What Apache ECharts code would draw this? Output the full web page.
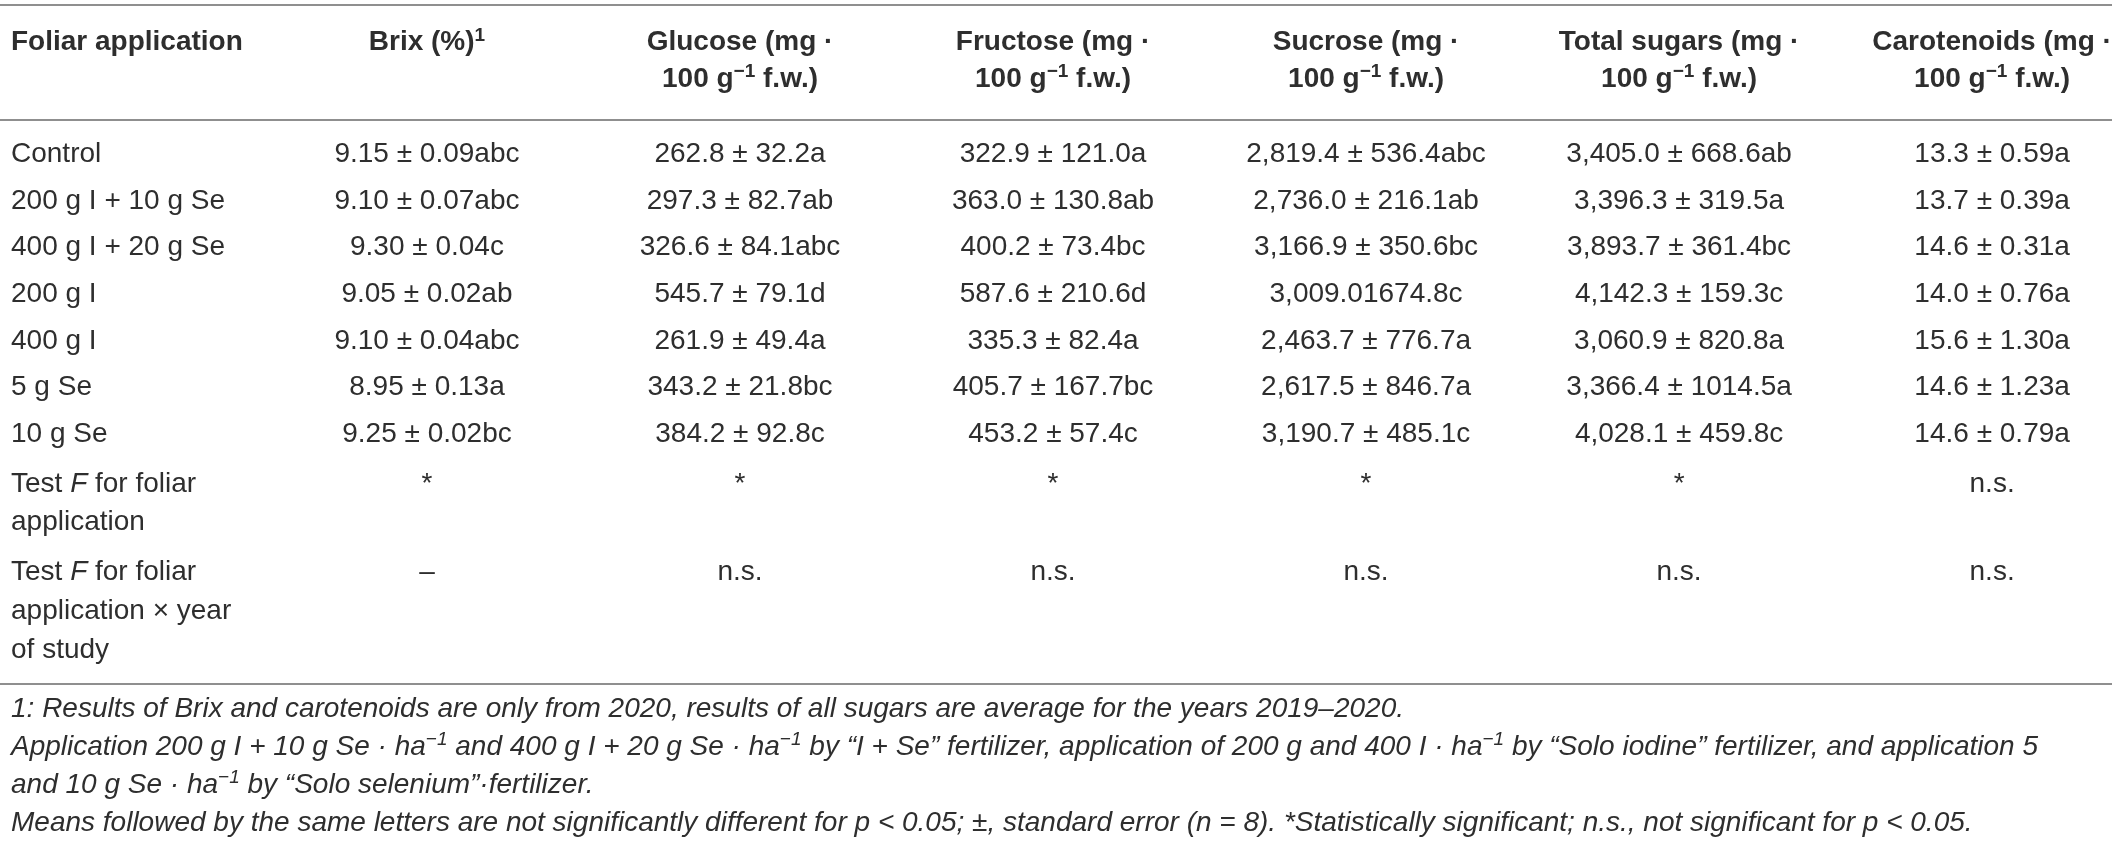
<!DOCTYPE html>
<html>
<head>
<meta charset="utf-8">
<title>Foliar application table</title>
<script src="https://cdn.jsdelivr.net/npm/echarts@6/dist/echarts.min.js"></script>
<style>
  html, body { margin: 0; padding: 0; background: #fff; }
  #main { width: 2120px; height: 845px; }
</style>
</head>
<body>
<div id="main"></div>
<script>
// column headers, one entry per printed line ({sb|..} = superscript)
var colHeaders = [
  ['Foliar application'],
  ['Brix (%){sb|1}'],
  ['Glucose (mg ·', '100 g{sb|−1} f.w.)'],
  ['Fructose (mg ·', '100 g{sb|−1} f.w.)'],
  ['Sucrose (mg ·', '100 g{sb|−1} f.w.)'],
  ['Total sugars (mg ·', '100 g{sb|−1} f.w.)'],
  ['Carotenoids (mg ·', '100 g{sb|−1} f.w.)']
];

var treatments = ['Control', '200 g I + 10 g Se', '400 g I + 20 g Se', '200 g I', '400 g I', '5 g Se', '10 g Se'];
var brix = ['9.15 ± 0.09abc', '9.10 ± 0.07abc', '9.30 ± 0.04c', '9.05 ± 0.02ab', '9.10 ± 0.04abc', '8.95 ± 0.13a', '9.25 ± 0.02bc'];
var glucose = ['262.8 ± 32.2a', '297.3 ± 82.7ab', '326.6 ± 84.1abc', '545.7 ± 79.1d', '261.9 ± 49.4a', '343.2 ± 21.8bc', '384.2 ± 92.8c'];
var fructose = ['322.9 ± 121.0a', '363.0 ± 130.8ab', '400.2 ± 73.4bc', '587.6 ± 210.6d', '335.3 ± 82.4a', '405.7 ± 167.7bc', '453.2 ± 57.4c'];
var sucrose = ['2,819.4 ± 536.4abc', '2,736.0 ± 216.1ab', '3,166.9 ± 350.6bc', '3,009.01674.8c', '2,463.7 ± 776.7a', '2,617.5 ± 846.7a', '3,190.7 ± 485.1c'];
var totalSugars = ['3,405.0 ± 668.6ab', '3,396.3 ± 319.5a', '3,893.7 ± 361.4bc', '4,142.3 ± 159.3c', '3,060.9 ± 820.8a', '3,366.4 ± 1014.5a', '4,028.1 ± 459.8c'];
var carotenoids = ['13.3 ± 0.59a', '13.7 ± 0.39a', '14.6 ± 0.31a', '14.0 ± 0.76a', '15.6 ± 1.30a', '14.6 ± 1.23a', '14.6 ± 0.79a'];

var testFLabel = ['Test {i|F} for foliar', 'application'];
var testF = ['*', '*', '*', '*', '*', 'n.s.'];
var testFYearLabel = ['Test {i|F} for foliar', 'application × year', 'of study'];
var testFYear = ['–', 'n.s.', 'n.s.', 'n.s.', 'n.s.', 'n.s.'];

var footnotes = [
  '1: Results of Brix and carotenoids are only from 2020, results of all sugars are average for the years 2019–2020.',
  'Application 200 g I + 10 g Se · ha{si|−1} and 400 g I + 20 g Se · ha{si|−1} by “I + Se” fertilizer, application of 200 g and 400 I · ha{si|−1} by “Solo iodine” fertilizer, and application 5',
  'and 10 g Se · ha{si|−1} by “Solo selenium”·fertilizer.',
  'Means followed by the same letters are not significantly different for p < 0.05; ±, standard error (n = 8). *Statistically significant; n.s., not significant for p < 0.05.'
];

var FONT = "'Liberation Sans', Arial, Helvetica, sans-serif";
var INK = '#2e2e2e';

// build rows
var valueCols = [brix, glucose, fructose, sucrose, totalSugars, carotenoids];
var rows = [];
for (var i = 0; i < treatments.length; i++) {
  var v = [];
  for (var c = 0; c < valueCols.length; c++) v.push(valueCols[c][i]);
  rows.push({ label: [treatments[i]], values: v });
}
rows.push({ label: testFLabel, values: testF });
rows.push({ label: testFYearLabel, values: testFYear });

// y axis is in "row" units, cells are laid out from their line counts
var headStart = 0.8, headStep = 0.79, bodyStart = 3.2, lineStep = 0.835;
var cells = [];
for (var c = 0; c < colHeaders.length; c++) {
  for (var k = 0; k < colHeaders[c].length; k++) {
    cells.push({ col: c, y: headStart + k * headStep, text: colHeaders[c][k], kind: 'head' });
  }
}
var y = bodyStart, lastLine = y;
for (var r = 0; r < rows.length; r++) {
  var n = rows[r].label.length;
  if (n > 1) y += 0.06;
  for (var k = 0; k < n; k++) {
    cells.push({ col: 0, y: y + k * lineStep, text: rows[r].label[k], kind: 'body' });
    lastLine = y + k * lineStep;
  }
  for (var c = 0; c < rows[r].values.length; c++) {
    cells.push({ col: c + 1, y: y, text: rows[r].values[c], kind: 'body' });
  }
  y += 1 + (n - 1) * lineStep;
}
var ruleY = lastLine + 0.72;
for (var k = 0; k < footnotes.length; k++) {
  cells.push({ col: 0, y: ruleY + 0.54 + k * 0.815, text: footnotes[k], kind: 'note' });
}

var seriesData = cells.map(function (d, idx) { return [d.col, d.y, idx]; });

function styleFor(kind) {
  if (kind === 'head') return { fontSize: 28, fontWeight: 'bold', fontStyle: 'normal' };
  if (kind === 'note') return { fontSize: 28, fontWeight: 'normal', fontStyle: 'italic' };
  return { fontSize: 28, fontWeight: 'normal', fontStyle: 'normal' };
}

function richFor(s) {
  return {
    sb: { fontSize: 19, fontWeight: s.fontWeight, fontStyle: s.fontStyle, fontFamily: FONT, fill: INK, lineHeight: 19, verticalAlign: 'top' },
    si: { fontSize: 19, fontWeight: 'normal', fontStyle: 'italic', fontFamily: FONT, fill: INK, lineHeight: 19, verticalAlign: 'top' },
    i: { fontSize: s.fontSize, fontWeight: s.fontWeight, fontStyle: 'italic', fontFamily: FONT, fill: INK, lineHeight: 33 }
  };
}

var chart = echarts.init(document.getElementById('main'));
chart.setOption({
  backgroundColor: '#fff',
  animation: false,
  grid: { left: 0, right: 8, top: 5, bottom: 0 },
  xAxis: { type: 'value', min: -0.364, max: 6.383, show: false },
  yAxis: { type: 'value', min: 0, max: 18, inverse: true, show: false },
  series: [{
    type: 'custom',
    data: seriesData,
    renderItem: function (params, api) {
      var d = cells[api.value(2)];
      var p = api.coord([api.value(0), api.value(1)]);
      var s = styleFor(d.kind);
      var left = d.col === 0;
      return {
        type: 'text',
        style: {
          text: d.text,
          x: left ? params.coordSys.x + 11 : p[0],
          y: p[1],
          align: left ? 'left' : 'center',
          verticalAlign: 'middle',
          fill: INK,
          fontSize: s.fontSize,
          fontWeight: s.fontWeight,
          fontStyle: s.fontStyle,
          fontFamily: FONT,
          lineHeight: 33,
          rich: richFor(s)
        }
      };
    },
    markLine: {
      silent: true,
      symbol: 'none',
      label: { show: false },
      lineStyle: { color: '#8f8f8f', width: 2, type: 'solid' },
      data: [{ yAxis: 0 }, { yAxis: 2.45 }, { yAxis: ruleY }]
    }
  }]
});
</script>
</body>
</html>
